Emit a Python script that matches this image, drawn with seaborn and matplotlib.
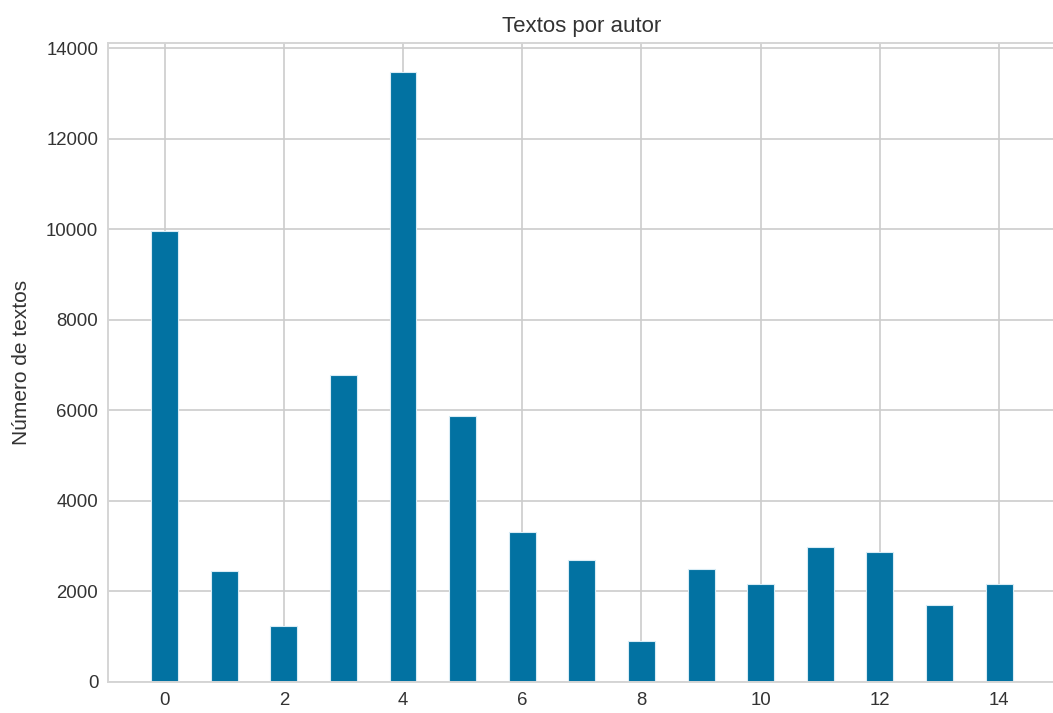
import matplotlib
matplotlib.use("Agg")
import matplotlib.pyplot as plt
import seaborn as sns
import pandas as pd

authors = list(range(15))
counts = [9967, 2448, 1234, 6789, 13469, 5869, 3324, 2699, 911, 2492, 2161, 2993, 2867, 1697, 2161]
xticks = [0, 2, 4, 6, 8, 10, 12, 14]
yticks = [0, 2000, 4000, 6000, 8000, 10000, 12000, 14000]

sns.set_style("whitegrid", {
    "grid.color": "#cccccc",
    "axes.edgecolor": "#d5d5d5",
    "text.color": "#333333",
    "axes.labelcolor": "#333333",
    "xtick.color": "#333333",
    "ytick.color": "#333333",
})
plt.rcParams["font.family"] = ["Liberation Sans", "DejaVu Sans"]

df = pd.DataFrame({"autor": authors, "textos": counts})

fig = plt.figure(figsize=(10.53, 7.13), dpi=100)
ax = fig.add_axes([0.1026, 0.0435, 0.9000, 0.8962])

sns.barplot(data=df, x="autor", y="textos", native_scale=True, width=0.45,
            color="#0272a2", saturation=1, edgecolor="#d8ecf5", linewidth=0.8, ax=ax)

ax.set_xlim(-0.95, 14.95)
ax.set_ylim(0, 14120)
ax.set_xticks(xticks)
ax.set_yticks(yticks)
ax.tick_params(labelsize=13.4, length=0, pad=7)
ax.grid(True, color="#cccccc", linewidth=1.2)
for name, s in ax.spines.items():
    s.set_visible(name != "right")
    s.set_color("#d5d5d5")
    s.set_linewidth(1.4)
ax.set_axisbelow(True)
ax.set_xlabel("")
ax.set_ylabel("Número de textos", fontsize=15, labelpad=11)
ax.set_title("Textos por autor", fontsize=16, pad=8)

fig.savefig("out.png", dpi=100)
